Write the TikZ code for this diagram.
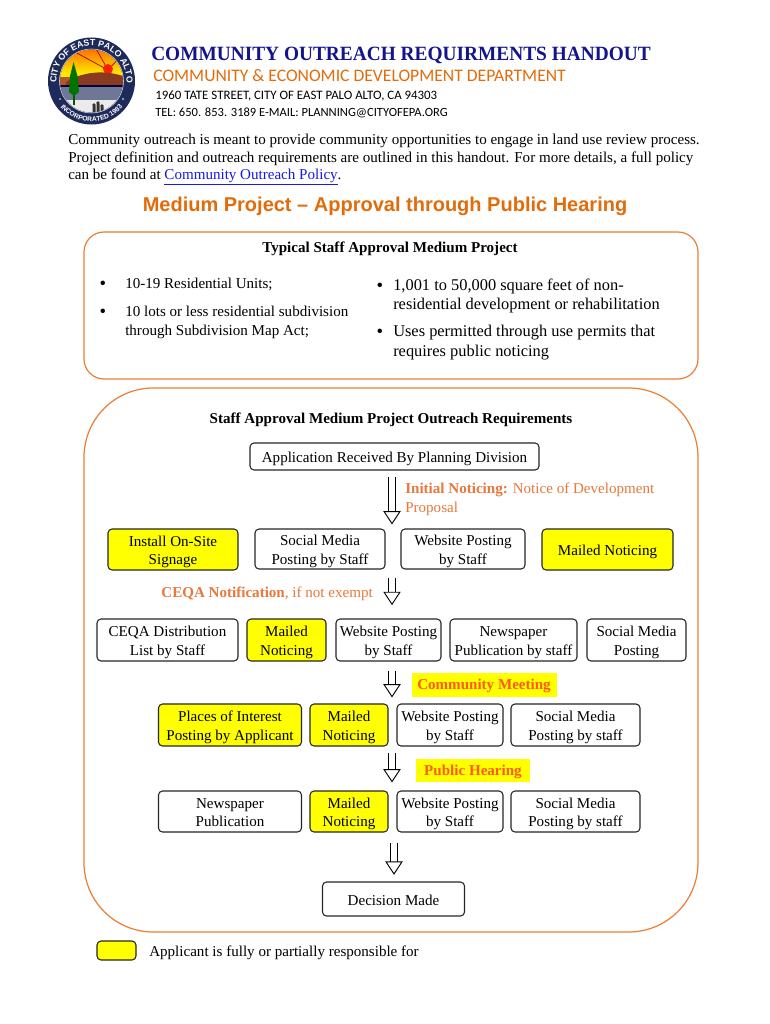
\documentclass[tikz,border=0pt]{standalone}
\usepackage{fontspec}
\setmainfont{Liberation Serif}
\setsansfont{Liberation Sans}
\newfontfamily\calibrifont{Carlito}
\usetikzlibrary{arrows.meta,decorations.text}
\definecolor{handoutnavy}{HTML}{14148C}
\definecolor{handoutorange}{HTML}{E36C0A}
\definecolor{noticeorange}{HTML}{E8783C}
\definecolor{meetingorange}{HTML}{FF5A14}
\definecolor{panelorange}{HTML}{ED7D31}
\definecolor{applicantyellow}{HTML}{FFFF00}
\definecolor{linkblue}{HTML}{1A1AE6}
\definecolor{sealnavy}{HTML}{1E2A5A}
\definecolor{sealhill}{HTML}{8A3A20}
\definecolor{sealrust}{HTML}{B8562A}
\definecolor{sealwater}{HTML}{6E7896}
\tikzset{
  bodytext/.style={font=\fontsize{11.3}{13.6}\selectfont,anchor=base west,inner sep=0pt},
  lefttext/.style={bodytext,font=\fontsize{11.3}{14}\selectfont},
  righttext/.style={bodytext,font=\fontsize{12.3}{14.3}\selectfont},
  bulletdot/.style={inner sep=0pt,font=\fontsize{14}{14}\selectfont},
  sz/.style 2 args={minimum width=#1*0.75pt,minimum height=#2*0.75pt},
  flowbox/.style={draw=black!85,line width=0.8pt,rounded corners=3pt,inner sep=0pt,align=center,
    text depth=0pt,text height=23pt,font=\fontsize{11.3}{13.9}\selectfont},
  oneline/.style={text height=9pt},
  applicantbox/.style={flowbox,fill=applicantyellow},
  panel/.style={draw=panelorange,line width=0.9pt,inner sep=0pt},
  noticetext/.style={font=\fontsize{11.3}{14.2}\selectfont,text=noticeorange,inner sep=0pt},
  meetingtext/.style={font=\fontsize{11.3}{13.9}\selectfont\bfseries,text=meetingorange,fill=applicantyellow,
    inner sep=0pt,text depth=0.5pt},
  blockarrow/.style={draw=black,double=white,double distance=4.6pt,line width=0.7pt,
    -{Triangle[length=10pt,width=13pt,fill=white,line width=0.7pt]}},
}
\begin{document}
\begin{tikzpicture}[x=0.75pt,y=-0.75pt]
  \useasboundingbox (0,0) rectangle (770,1024);
  \fill[white] (0,0) rectangle (770,1024);

  %% Seal
  \fill[sealnavy] (91.5,81) circle (43.5);
  \begin{scope}
    \clip (91.5,81) circle (31.5);
    \shade[top color=orange!85!red,bottom color=yellow] (55,48) rectangle (130,78);
    \draw[red!60!black,line width=0.5pt] (108,70) -- (75,52) (108,70) -- (95,47) (108,70) -- (122,55);
    \fill[red!75!orange] (108,69) circle (5);
    \fill[sealrust] (55,77) rectangle (130,87);
    \fill[sealhill] (66,82) .. controls (85,70) and (110,70) .. (128,78) -- (128,88) -- (66,88) -- cycle;
    \fill[black!75!blue] (55,85) rectangle (130,88);
    \fill[sealwater] (55,87) rectangle (130,101);
    \fill[black!8] (55,100) rectangle (130,120);
    \fill[black!80] (94,105) circle (1.8) (98,103) circle (1.8) (102,106) circle (1.8);
    \fill[black!80] (92.5,106) rectangle (95.5,116) (96.5,104) rectangle (99.5,116) (100.5,107) rectangle (103.5,116);
    \fill[green!35!black] (72.6,90) rectangle (74.6,105);
    \fill[green!45!black] (73.5,62) -- (70,76) -- (69,92) -- (74,96) -- (79,92) -- (77.5,76) -- cycle;
  \end{scope}
  \draw[white!85!sealnavy,line width=0.4pt] (91.5,81) circle (32);
  \fill[white] (60,99) circle (0.9) (123,99) circle (0.9);
  \path[decorate,decoration={text along path,text color=white,text align=center,
    text={|\sffamily\bfseries\fontsize{6.6}{7}\selectfont|CITY OF EAST PALO ALTO}}]
    (57,87) arc[start angle=170,end angle=370,radius=35];
  \path[decorate,decoration={text along path,text color=white,text align=center,
    text={|\sffamily\bfseries\fontsize{5}{6}\selectfont|INCORPORATED 1983}}]
    (51,81) arc[start angle=180,end angle=0,radius=40.5];

  %% Header
  \node[anchor=base west,inner sep=0pt,xscale=0.955,text=handoutnavy,font=\fontsize{15.2}{18}\selectfont\bfseries] (handout) at (151,61) {COMMUNITY OUTREACH REQUIRMENTS HANDOUT};
  \node[anchor=base west,inner sep=0pt,text=handoutorange,font=\calibrifont\fontsize{13.2}{16}\selectfont] (department) at (153,81) {COMMUNITY \& ECONOMIC DEVELOPMENT DEPARTMENT};
  \node[anchor=base west,inner sep=0pt,font=\calibrifont\fontsize{9.65}{11}\selectfont] (address) at (155,99) {1960 TATE STREET, CITY OF EAST PALO ALTO, CA 94303};
  \node[anchor=base west,inner sep=0pt,font=\calibrifont\fontsize{9.4}{11}\selectfont] (contact) at (155,116) {TEL: 650. 853. 3189 E-MAIL: PLANNING@CITYOFEPA.ORG};

  %% Intro
  \node[bodytext] (introa) at (68,144) {Community outreach is meant to provide community opportunities to engage in land use review process.};
  \node[bodytext] (introb) at (68,162) {Project definition and outreach requirements are outlined in this handout. For more details, a full policy};
  \node[bodytext] (introc) at (68,179) {can be found at \textcolor{linkblue}{\underline{Community Outreach Policy}}.};
  \node[inner sep=0pt,text=handoutorange,font=\sffamily\bfseries\fontsize{15}{18}\selectfont] (heading) at (385,206) {Medium Project -- Approval through Public Hearing};

  %% Typical project panel
  \draw[panel,rounded corners=15pt] (84,232) rectangle (698,379);
  \node[inner sep=0pt,font=\fontsize{11.3}{14}\selectfont\bfseries] (typical) at (390,249) {Typical Staff Approval Medium Project};
  \node[bulletdot] (dota) at (103,285) {\textbullet};
  \node[bulletdot] (dotb) at (103,313) {\textbullet};
  \node[bulletdot] (dotc) at (380,287) {\textbullet};
  \node[bulletdot] (dotd) at (380,333) {\textbullet};
  \node[lefttext] (units) at (125,288) {10-19 Residential Units;};
  \node[lefttext] (lotsa) at (125,316) {10 lots or less residential subdivision};
  \node[lefttext] (lotsb) at (125,335) {through Subdivision Map Act;};
  \node[righttext] (sqfta) at (393,290) {1,001 to 50,000 square feet of non-};
  \node[righttext] (sqftb) at (393,309) {residential development or rehabilitation};
  \node[righttext] (usesa) at (393,336) {Uses permitted through use permits that};
  \node[righttext] (usesb) at (393,356) {requires public noticing};

  %% Outreach panel
  \draw[panel,rounded corners=52pt] (84,388) rectangle (698,932);
  \node[inner sep=0pt,font=\fontsize{11.3}{14}\selectfont\bfseries] (outreach) at (391,420) {Staff Approval Medium Project Outreach Requirements};
  \coordinate (flowx) at (392,0);

  \node[flowbox,oneline,sz={289}{27}] (received) at (394.5,456.5) {Application Received By Planning Division};
  \node[noticetext,anchor=base west] (initiala) at (405,493) {\textbf{Initial Noticing:} Notice of Development};
  \node[noticetext,anchor=base west] (initialb) at (405,512) {Proposal};

  %% Row 1
  \node[applicantbox,sz={130}{41}] (install) at (173,549.5) {Install On-Site\\Signage};
  \node[flowbox,sz={130}{40}] (socialA) at (320,549) {Social Media\\Posting by Staff};
  \node[flowbox,sz={124}{40}] (webA) at (463,549) {Website Posting\\by Staff};
  \node[applicantbox,oneline,sz={131}{41}] (mailA) at (607.5,549.5) {Mailed Noticing};

  \node[noticetext,anchor=east] (ceqa) at (373,594) {\textbf{CEQA Notification}, if not exempt};

  %% Row 2
  \node[flowbox,sz={141}{42}] (distB) at (167.5,640) {CEQA Distribution\\List by Staff};
  \node[applicantbox,sz={79}{42}] (mailB) at (286.5,640) {Mailed\\Noticing};
  \node[flowbox,sz={105}{42}] (webB) at (388.5,640) {Website Posting\\by Staff};
  \node[flowbox,sz={127}{42}] (newsB) at (513.5,640) {Newspaper\\Publication by staff};
  \node[flowbox,sz={99}{42}] (socialB) at (636.5,640) {Social Media\\Posting};

  \node[meetingtext,sz={145}{24}] (meeting) at (484,685) {Community Meeting};

  %% Row 3
  \node[applicantbox,sz={143}{42}] (placesC) at (230,725) {Places of Interest\\Posting by Applicant};
  \node[applicantbox,sz={78}{42}] (mailC) at (349,725) {Mailed\\Noticing};
  \node[flowbox,sz={106}{42}] (webC) at (450,725) {Website Posting\\by Staff};
  \node[flowbox,sz={129}{42}] (socialC) at (575.5,725) {Social Media\\Posting by staff};

  \node[meetingtext,sz={114}{23}] (hearing) at (473,770.5) {Public Hearing};

  %% Row 4
  \node[flowbox,sz={143}{41}] (newsD) at (230,811.5) {Newspaper\\Publication};
  \node[applicantbox,sz={78}{41}] (mailD) at (349,811.5) {Mailed\\Noticing};
  \node[flowbox,sz={106}{41}] (webD) at (450,811.5) {Website Posting\\by Staff};
  \node[flowbox,sz={129}{41}] (socialD) at (575.5,811.5) {Social Media\\Posting by staff};

  \node[flowbox,oneline,sz={142}{34}] (decision) at (393.5,899) {Decision Made};

  %% Block arrows
  \draw[blockarrow,shorten <=5pt,shorten >=3pt] (flowx |- received.south) -- (flowx |- webA.north);
  \draw[blockarrow,shorten <=6pt,shorten >=10pt] (flowx |- webA.south) -- (flowx |- webB.north);
  \draw[blockarrow,shorten <=7pt,shorten >=4.5pt] (flowx |- webB.south) -- (flowx |- webC.north);
  \draw[blockarrow,shorten <=5pt,shorten >=6pt] (flowx |- webC.south) -- (flowx |- webD.north);
  \draw[blockarrow,shorten <=7.5pt,shorten >=5pt] ([xshift=1.5pt]flowx |- webD.south) -- ([xshift=1.5pt]flowx |- decision.north);

  %% Legend
  \node[applicantbox,oneline,sz={39}{19}] (swatch) at (116.5,950.5) {};
  \node[inner sep=0pt,anchor=base west,font=\fontsize{11.3}{14}\selectfont] (legend) at (149,956.5) {Applicant is fully or partially responsible for};
\end{tikzpicture}
\end{document}
